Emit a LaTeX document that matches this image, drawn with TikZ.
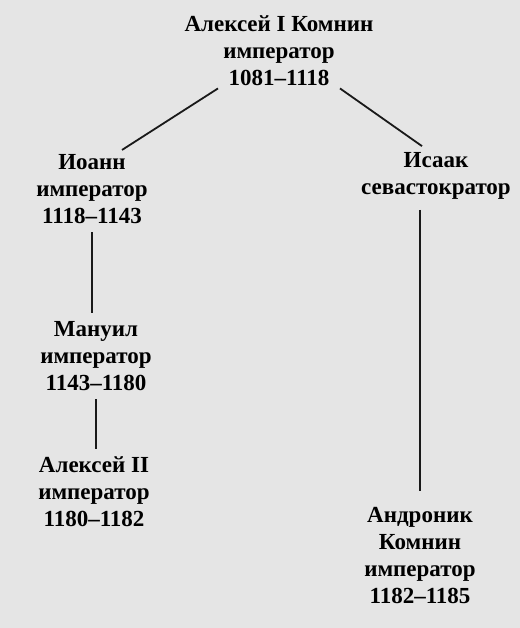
\documentclass[tikz,border=0pt]{standalone}
\usepackage{fontspec}
\setmainfont{Liberation Serif}
\usetikzlibrary{calc}
\tikzset{
  person/.style = {align=center, font=\bfseries\fontsize{11.5}{13.5}\selectfont,
                   inner sep=2pt, text=black},
  link/.style = {line width=0.9pt, black!90}
}

\begin{document}
\begin{tikzpicture}[x=0.5pt, y=-0.5pt]
	% Page
	\fill[black!10] (0,0) rectangle (520,628);
	\useasboundingbox (0,0) rectangle (520,628);

	% Persons
	\node[person] (alexios) at (279,51)  {Алексей I Комнин\\император\\1081--1118};
	\node[person] (ioann)   at (92,189)  {Иоанн\\император\\1118--1143};
	\node[person] (isaak)   at (436,176) {Исаак\\севастократор};
	\node[person] (manuil)  at (96,356)  {Мануил\\император\\1143--1180};
	\node[person] (alexii)  at (94,492)  {Алексей II\\император\\1180--1182};
	\node[person] (andr)    at (420,556) {Андроник\\Комнин\\император\\1182--1185};

	% Lines
	\draw[link] ($(alexios.south)+(-61,-2)$) -- ($(ioann.north)+(30,0)$);
	\draw[link] ($(alexios.south)+(61,-2)$)  -- ($(isaak.north)+(-14,-2)$);
	\draw[link] ([yshift=-2pt]ioann.south) -- ([yshift=2pt]ioann.south |- manuil.north);
	\draw[link] ([yshift=-2pt]manuil.south) -- ([yshift=2pt]manuil.south |- alexii.north);
	\draw[link] ([yshift=-3pt]isaak.south -| andr.north) -- ([yshift=6pt]andr.north);
\end{tikzpicture}
\end{document}
